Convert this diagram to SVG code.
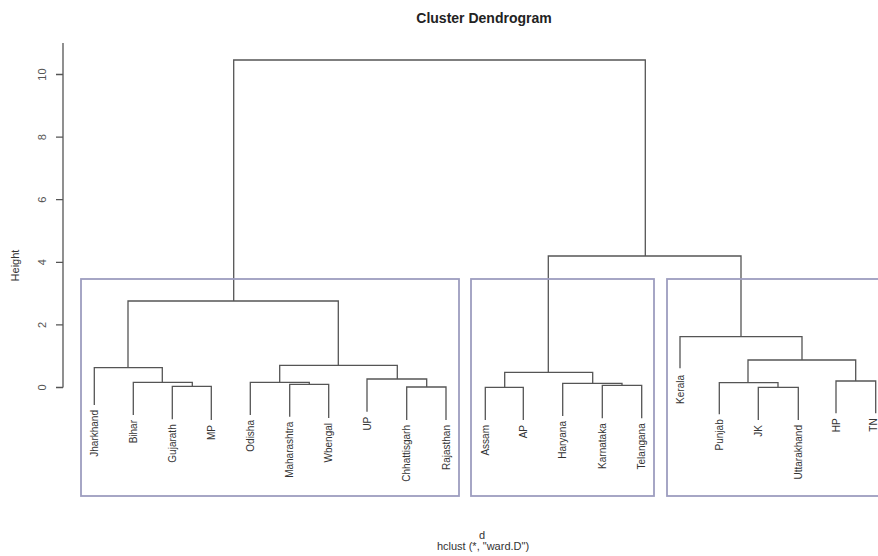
<svg xmlns="http://www.w3.org/2000/svg" width="878" height="556" viewBox="0 0 878 556">
<style>
  .bg { fill: #ffffff; }
  .tree { fill: none; stroke: #555555; stroke-width: 1.3; }
  .axis { fill: none; stroke: #555555; stroke-width: 1.3; }
  .box { fill: none; stroke: #9d9dbf; stroke-width: 1.8; }
  .leaf { font-family: "Liberation Sans", Arial, sans-serif; font-size: 10px; fill: #333333; text-anchor: end; }
  .tick { font-family: "Liberation Sans", Arial, sans-serif; font-size: 11px; fill: #555555; text-anchor: middle; }
  .ylab { font-family: "Liberation Sans", Arial, sans-serif; font-size: 11px; fill: #333333; text-anchor: middle; }
  .title { font-family: "Liberation Sans", Arial, sans-serif; font-size: 14px; font-weight: bold; fill: #222222; text-anchor: middle; }
  .sub { font-family: "Liberation Sans", Arial, sans-serif; font-size: 11px; fill: #333333; text-anchor: middle; }
</style>
<rect class="bg" x="0" y="0" width="878" height="556"/>
<text class="title" x="484" y="23">Cluster Dendrogram</text>
<g id="axis">
  <path class="axis" d="M63 43 V387.5 M56 387.5 H63 M56 324.9 H63 M56 262.3 H63 M56 199.7 H63 M56 137.1 H63 M56 74.5 H63"/>
  <text class="tick" transform="translate(46,387.5) rotate(-90)">0</text>
  <text class="tick" transform="translate(46,324.9) rotate(-90)">2</text>
  <text class="tick" transform="translate(46,262.3) rotate(-90)">4</text>
  <text class="tick" transform="translate(46,199.7) rotate(-90)">6</text>
  <text class="tick" transform="translate(46,137.1) rotate(-90)">8</text>
  <text class="tick" transform="translate(46,74.5) rotate(-90)">10</text>
  <text class="ylab" transform="translate(19,265.5) rotate(-90)">Height</text>
</g>
<g id="connectors">
  <path class="tree" d="M233.7 301 V60 H645.3 V256"/>
  <path class="tree" d="M128 367.7 V301 H338.3 V365.3"/>
  <path class="tree" d="M94.3 405 V367.7 H162.3 V382.3"/>
  <path class="tree" d="M133.3 415 V382.3 H192.3 V386.3"/>
  <path class="tree" d="M172.3 419.3 V386.3 H211.3 V420"/>
  <path class="tree" d="M279.7 382.3 V365.3 H397.3 V379"/>
  <path class="tree" d="M250.3 415 V382.3 H309.3 V384.3"/>
  <path class="tree" d="M289.7 416.7 V384.3 H328.7 V418"/>
  <path class="tree" d="M367 411.7 V379 H426.7 V387"/>
  <path class="tree" d="M406.7 420 V387 H446 V420"/>
  <path class="tree" d="M548.3 372.3 V256 H741 V336.7"/>
  <path class="tree" d="M504.7 387.3 V372.3 H592.7 V383.3"/>
  <path class="tree" d="M485.3 420 V387.3 H523.3 V420"/>
  <path class="tree" d="M562.7 416 V383.3 H622 V385.3"/>
  <path class="tree" d="M602.3 418.3 V385.3 H641.7 V418.3"/>
  <path class="tree" d="M680 368.3 V336.7 H802 V360"/>
  <path class="tree" d="M748 382.7 V360 H855.7 V381"/>
  <path class="tree" d="M719.3 414.3 V382.7 H778 V387.3"/>
  <path class="tree" d="M758.3 420 V387.3 H798.3 V420"/>
  <path class="tree" d="M836 413.3 V381 H875.7 V413.3"/>
</g>
<g id="clusters">
  <rect id="cluster1" class="box" x="81" y="279" width="378" height="217"/>
  <rect id="cluster2" class="box" x="471" y="279" width="183" height="217"/>
  <rect id="cluster3" class="box" x="667" y="279" width="230" height="217"/>
</g>
<g id="leaf-jharkhand"><text class="leaf" transform="translate(97.8,410) rotate(-90)">Jharkhand</text></g>
<g id="leaf-bihar"><text class="leaf" transform="translate(136.8,420) rotate(-90)">Bihar</text></g>
<g id="leaf-gujarath"><text class="leaf" transform="translate(175.8,424.3) rotate(-90)">Gujarath</text></g>
<g id="leaf-mp"><text class="leaf" transform="translate(214.8,425) rotate(-90)">MP</text></g>
<g id="leaf-odisha"><text class="leaf" transform="translate(253.8,420) rotate(-90)">Odisha</text></g>
<g id="leaf-maharashtra"><text class="leaf" transform="translate(293.2,421.7) rotate(-90)">Maharashtra</text></g>
<g id="leaf-wbengal"><text class="leaf" transform="translate(332.2,423) rotate(-90)">Wbengal</text></g>
<g id="leaf-up"><text class="leaf" transform="translate(370.5,416.7) rotate(-90)">UP</text></g>
<g id="leaf-chhattisgarh"><text class="leaf" transform="translate(410.2,425) rotate(-90)">Chhattisgarh</text></g>
<g id="leaf-rajasthan"><text class="leaf" transform="translate(449.5,425) rotate(-90)">Rajasthan</text></g>
<g id="leaf-assam"><text class="leaf" transform="translate(488.8,425) rotate(-90)">Assam</text></g>
<g id="leaf-ap"><text class="leaf" transform="translate(526.8,425) rotate(-90)">AP</text></g>
<g id="leaf-haryana"><text class="leaf" transform="translate(566.2,421) rotate(-90)">Haryana</text></g>
<g id="leaf-karnataka"><text class="leaf" transform="translate(605.8,423.3) rotate(-90)">Karnataka</text></g>
<g id="leaf-telangana"><text class="leaf" transform="translate(645.2,423.3) rotate(-90)">Telangana</text></g>
<g id="leaf-kerala"><text class="leaf" transform="translate(683.5,375) rotate(-90)">Kerala</text></g>
<g id="leaf-punjab"><text class="leaf" transform="translate(722.8,419.3) rotate(-90)">Punjab</text></g>
<g id="leaf-jk"><text class="leaf" transform="translate(761.8,425) rotate(-90)">JK</text></g>
<g id="leaf-uttarakhand"><text class="leaf" transform="translate(801.8,425) rotate(-90)">Uttarakhand</text></g>
<g id="leaf-hp"><text class="leaf" transform="translate(839.5,418.3) rotate(-90)">HP</text></g>
<g id="leaf-tn"><text class="leaf" transform="translate(877.2,418.3) rotate(-90)">TN</text></g>
<text class="sub" x="482" y="539">d</text>
<text class="sub" x="483" y="550">hclust (*, "ward.D")</text>
</svg>
